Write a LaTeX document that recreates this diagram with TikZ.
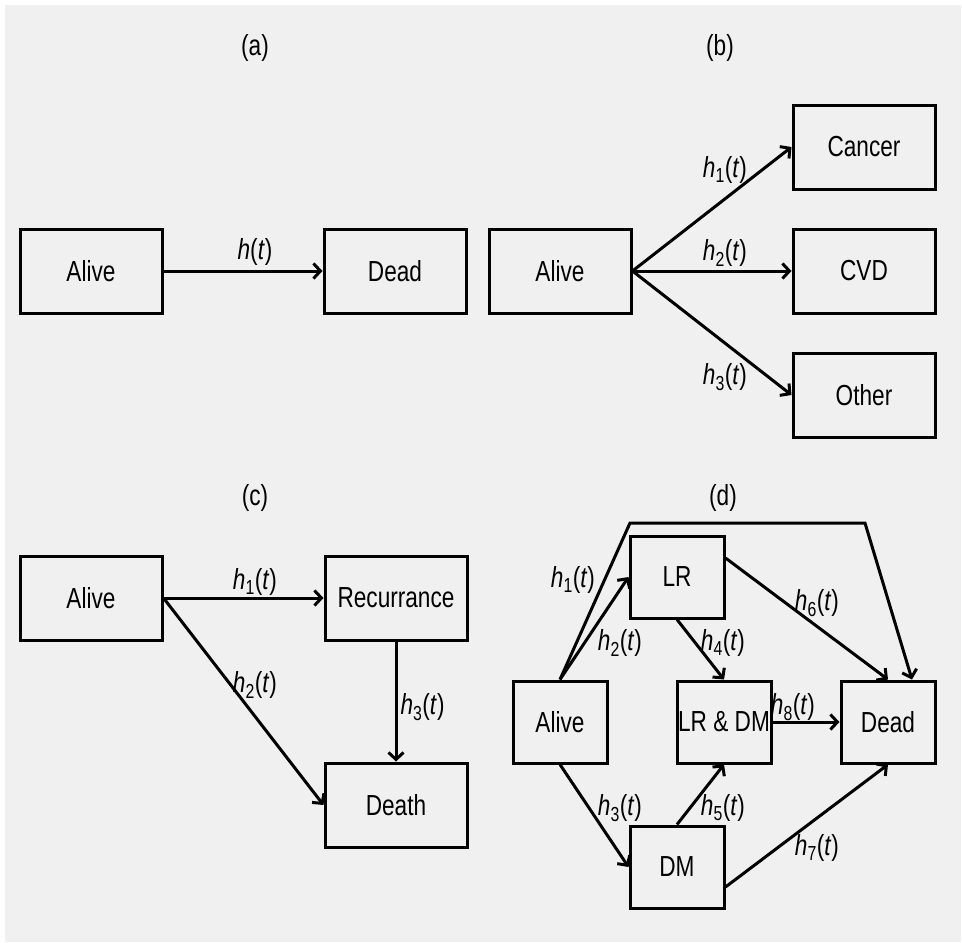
\documentclass[tikz,border=0pt]{standalone}
\usepackage{fontspec}
\setmainfont[FakeStretch=0.78]{Liberation Sans}
\usepackage{tikz}
\usetikzlibrary{arrows.meta}

\definecolor{bggray}{RGB}{240,240,240}
\newcommand{\hrate}[1]{\textit{h}\textsubscript{#1}(\textit{t})}

\tikzset{
  state/.style={draw, line width=3pt, minimum width=142pt, minimum height=84pt, inner sep=0pt},
  smallstate/.style={state, minimum width=94pt, minimum height=82pt},
  trans/.style={line width=3pt, -{Straight Barb[length=7pt,width=15pt]}},
}

\begin{document}
\begin{tikzpicture}[x=1pt, y=-1pt, font=\fontsize{29}{34}\selectfont]

% Background
\useasboundingbox (0,0) rectangle (962,943);
\fill[bggray] (5,5) rectangle (961,942);

% Panel (a)
\node at (255,48) {(a)};
\node[state] (aAlive) at (91,271) {Alive};
\node[state] (aDead) at (395,271) {Dead};
\draw[trans] (aAlive) -- (aDead);
\node at (255,252) {\textit{h}(\textit{t})};

% Panel (b)
\node at (720,48) {(b)};
\node[state] (bAlive) at (560,271) {Alive};
\node[state] (bCancer) at (864,147) {Cancer};
\node[state] (bCVD) at (864,271) {CVD};
\node[state] (bOther) at (864,395) {Other};
\draw[trans] (bAlive.east) -- (bCancer.west);
\draw[trans] (bAlive.east) -- (bCVD.west);
\draw[trans] (bAlive.east) -- (bOther.west);
\node at (725,170) {\hrate{1}};
\node at (725,253) {\hrate{2}};
\node at (725,377) {\hrate{3}};

% Panel (c)
\node at (255,498) {(c)};
\node[state] (cAlive) at (91,598) {Alive};
\node[state] (cRec) at (396,598) {Recurrance};
\node[state] (cDeath) at (396,805) {Death};
\draw[trans] (cAlive.east) -- (cRec.west);
\draw[trans] (cAlive.east) -- (cDeath.west);
\draw[trans] (cRec.south) -- (cDeath.north);
\node at (255,582) {\hrate{1}};
\node at (255,685) {\hrate{2}};
\node[anchor=west] at (397,707) {\hrate{3}};

% Panel (d)
\node at (723,498) {(d)};
\node[smallstate] (dAlive) at (560,722) {Alive};
\node[smallstate] (dLR) at (677,577) {LR};
\node[smallstate] (dBoth) at (724,722) {LR \& DM};
\node[smallstate] (dDead) at (888,722) {Dead};
\node[smallstate] (dDM) at (677,867) {DM};
\coordinate (topL) at (630,523);
\coordinate (topR) at (865,523);
\draw[trans] (dAlive.north) -- (topL) -- (topR) -- ([xshift=24pt]dDead.north);
\draw[trans] (dAlive.north) -- (dLR.west);
\draw[trans] ([yshift=19pt]dLR.east) -- (dDead.north);
\draw[trans] (dLR.south) -- (dBoth.north);
\draw[trans] (dBoth.east) -- (dDead.west);
\draw[trans] (dAlive.south) -- (dDM.west);
\draw[trans] (dDM.north) -- (dBoth.south);
\draw[trans] ([yshift=-20pt]dDM.east) -- (dDead.south);
\node at (573,580) {\hrate{1}};
\node at (620,643) {\hrate{2}};
\node at (620,808) {\hrate{3}};
\node at (723,643) {\hrate{4}};
\node at (723,808) {\hrate{5}};
\node at (817,603) {\hrate{6}};
\node at (817,848) {\hrate{7}};
\node at (793,707) {\hrate{8}};

\end{tikzpicture}
\end{document}
